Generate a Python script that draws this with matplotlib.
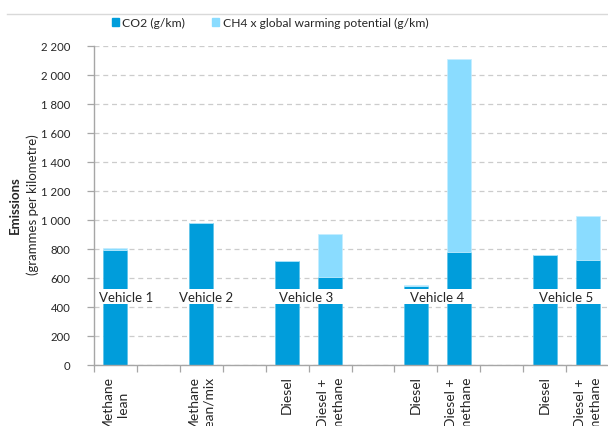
import matplotlib
matplotlib.use("Agg")
import matplotlib.pyplot as plt
import numpy as np
from matplotlib.patches import Patch
from matplotlib.lines import Line2D

plt.rcParams['font.family'] = ['Lato', 'DejaVu Sans']

# slots along the x axis (blank ones are gaps between vehicles)
categories = ["Methane\nlean", "", "Methane\nlean/mix", "", "Diesel", "Diesel +\nmethane", "",
              "Diesel", "Diesel +\nmethane", "", "Diesel", "Diesel +\nmethane"]
co2 = [795, 0, 978, 0, 719, 609, 0, 550, 781, 0, 761, 729]
ch4_gwp = [12, 0, 5, 0, 3, 296, 0, 4, 1331, 0, 0, 303]
has_bar = [1, 0, 1, 0, 1, 1, 0, 1, 1, 0, 1, 1]

vehicles = ["Vehicle 1", "Vehicle 2", "Vehicle 3", "Vehicle 4", "Vehicle 5"]
vehicle_x = [0.25, 2.1, 4.45, 7.5, 10.5]
vehicle_y = 466
band = (424, 525)  # white strip behind the vehicle labels

yticks = list(range(0, 2201, 200))
ytick_labels = ["0", "200", "400", "600", "800", "1 000", "1 200", "1 400",
                "1 600", "1 800", "2 000", "2 200"]

c_co2 = "#009ddb"
c_ch4 = "#8adcff"
txt = "#262626"

fig = plt.figure(figsize=(6.08, 4.26), dpi=100)
ax = fig.add_axes([94 / 608, 1 - 365.3 / 426, 515 / 608, (365.3 - 46.3) / 426])

x = np.arange(len(categories))
mask = np.array(has_bar, bool)
ax.bar(x[mask], np.array(co2)[mask], width=0.56, color=c_co2, edgecolor="#5cc3ea",
       linewidth=0.5, zorder=2)
ax.bar(x[mask], np.array(ch4_gwp)[mask], bottom=np.array(co2)[mask], width=0.56,
       color=c_ch4, edgecolor="#c4edff", linewidth=0.5, zorder=2)

ax.axhspan(band[0], band[1], color="white", zorder=2.5, lw=0)
for name, vx in zip(vehicles, vehicle_x):
    ax.text(vx, vehicle_y, name, ha="center", va="center", fontsize=9.5, color=txt, zorder=4)

ax.set_xlim(-0.5, len(categories) - 0.5)
ax.set_ylim(0, 2200)
ax.set_yticks(yticks)
ax.set_yticklabels(ytick_labels, fontsize=8.2, color=txt)
ax.yaxis.grid(True, linestyle=(0, (4, 3)), color="#cccccc", linewidth=0.9, zorder=0)
ax.set_axisbelow(True)

ax.set_xticks(x)
ax.set_xticklabels(categories, rotation=90, fontsize=10, color=txt, va="top", ha="center",
                   multialignment="center", linespacing=1.3)
ax.set_xticks(np.arange(-0.5, len(categories), 1.0), minor=True)
ax.tick_params(axis="x", which="major", length=0, pad=8)
ax.tick_params(axis="x", which="minor", length=5, color="#a6a6a6", width=0.9)
ax.tick_params(axis="y", length=5, color="#a6a6a6", width=0.9, pad=12)

for s in ["top", "right"]:
    ax.spines[s].set_visible(False)
for s in ["left", "bottom"]:
    ax.spines[s].set_color("#a6a6a6")
    ax.spines[s].set_linewidth(1.0)

fig.text(15 / 608, 1 - 205 / 426, "Emissions", rotation=90, ha="center", va="center",
         fontsize=9.5, fontweight="bold", color=txt)
fig.text(33 / 608, 1 - 205 / 426, "(grammes per kilometre)", rotation=90, ha="center",
         va="center", fontsize=9.5, color=txt)

handles = [Patch(color=c_co2, label="CO2 (g/km)"),
           Patch(color=c_ch4, label="CH4 x global warming potential (g/km)")]
fig.legend(handles=handles, loc="center", bbox_to_anchor=(270 / 608, 1 - 23 / 426), ncol=2,
           frameon=False, fontsize=8.7, handlelength=0.6, handleheight=0.6,
           handletextpad=0.3, columnspacing=2.2, labelcolor=txt)

fig.add_artist(Line2D([7 / 608, 1], [1 - 14 / 426, 1 - 14 / 426], color="#d9d9d9", lw=1))

fig.savefig("out.png", dpi=100)
